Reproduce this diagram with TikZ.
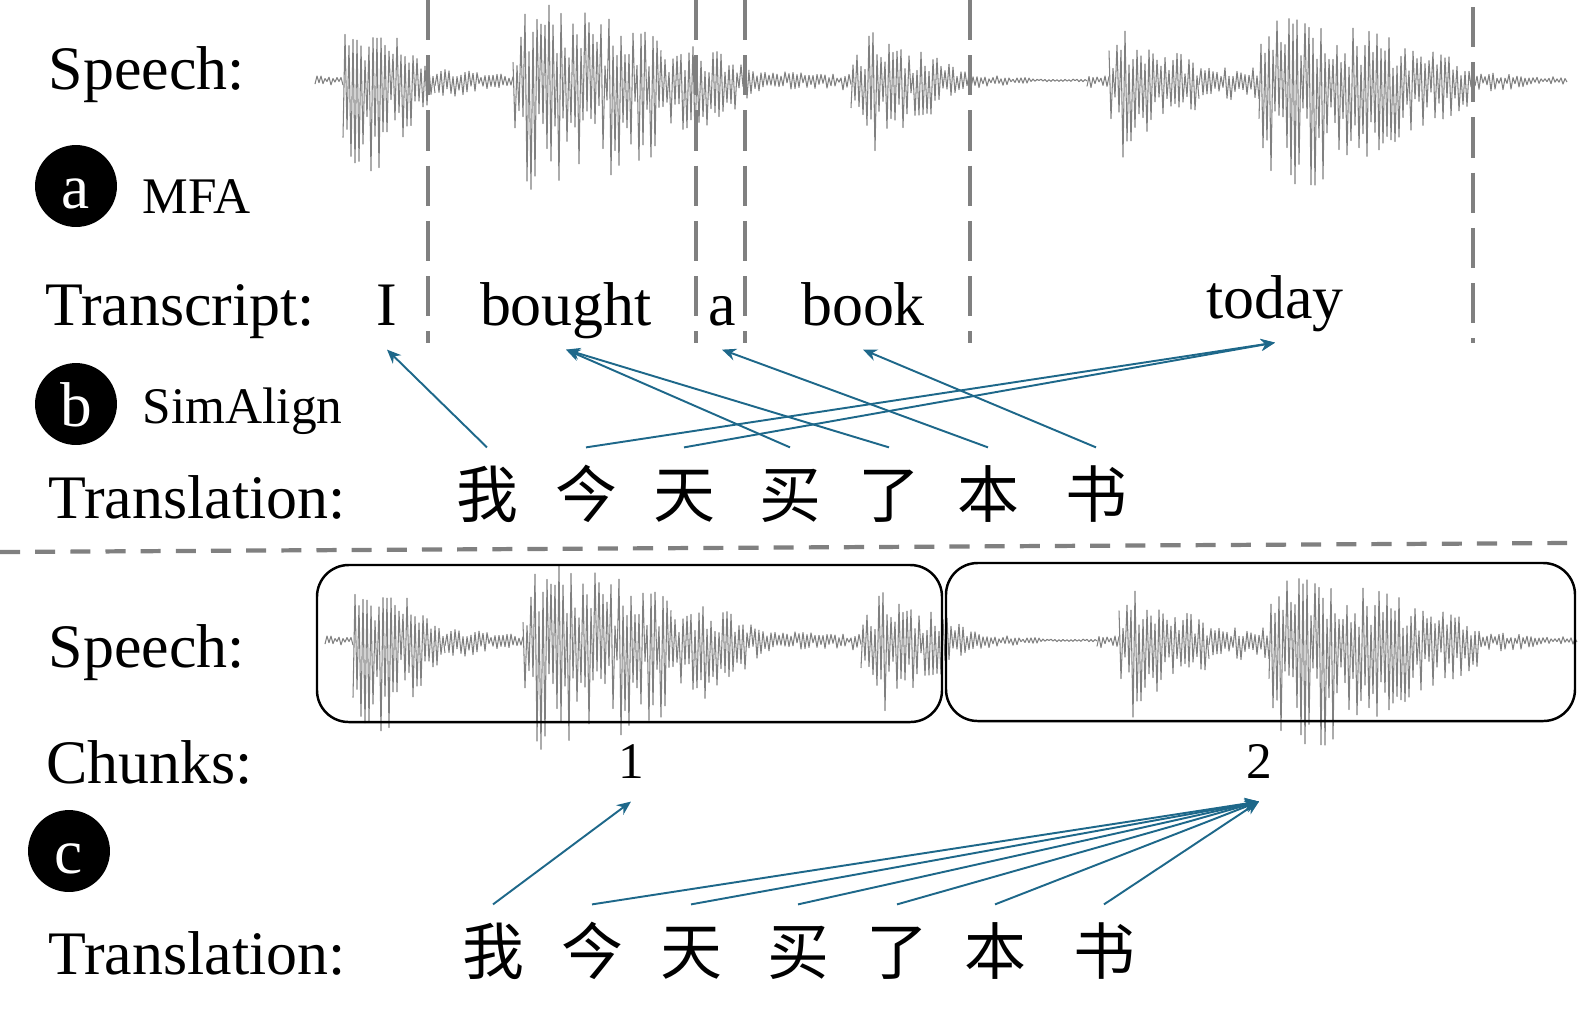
\documentclass[tikz,border=0pt]{standalone}
\usepackage{fontspec}
\setmainfont{Liberation Serif}
\newfontfamily\cjk{Noto Sans CJK SC}
\usetikzlibrary{arrows.meta, positioning, calc}

\definecolor{linkblue}{RGB}{30,104,138}
\definecolor{wavegray}{RGB}{128,128,128}
\definecolor{cutgray}{RGB}{128,128,128}

\newcommand{\labelsize}{\fontsize{17.6}{20}\selectfont}
\newcommand{\toolsize}{\fontsize{14.6}{17}\selectfont}
\newcommand{\tagsize}{\fontsize{18}{21}\selectfont}

% one speech track, centre line at y=80
\newcommand{\speechwave}{%
  \pgfmathsetseed{1234}%
  \foreach \ws/\wp/\we/\wa/\wg/\wf in {315/315/343/3/1/1, 343/361/435/70/0.6/0.15,
      435/435/513/12/1/0.3, 513/531/661/80/0.6/0.6, 661/701/749/38/0.6/0.25,
      749/749/851/8/1/0.6, 851/875/969/48/0.6/0.15, 969/969/1031/5/1/0.2,
      1031/1031/1087/0/1/1, 1087/1087/1109/4/1/1, 1109/1127/1199/54/0.6/0.3,
      1199/1199/1259/12/1/0.9, 1259/1281/1471/76/0.6/0.2, 1471/1471/1567/8/1/0.15}{%
    \pgfmathtruncatemacro\wn{(\we-\ws)/2+1}%
    \draw[wave] plot[domain=\ws:\we, samples=\wn]
      (\x, {80-wsign(\x)*(1.2+\wa*ifthenelse(\x<\wp, \wg+(1-\wg)*(\x-\ws)/(\wp-\ws+0.01),
        1-(1-\wf)*(\x-\wp)/(\we-\wp+0.01)))*(0.2+0.8*rnd)});
  }%
}

\begin{document}
\begin{tikzpicture}[x=0.01cm, y=-0.01cm, >=Stealth,
  declare function={wsign(\x)=ifthenelse(mod(\x-312,4)<2,1,-1.6);},
  rowlabel/.style={font=\labelsize, inner sep=0pt, anchor=base west},
  toolname/.style={font=\toolsize, inner sep=0pt, anchor=base west},
  tagdot/.style={circle, fill=black, text=white, minimum size=23.3pt, inner sep=0pt,
    font=\tagsize, text height=12.6pt, text depth=0pt},
  word/.style={font=\labelsize, anchor=base, inner xsep=0pt, inner ysep=6.8pt, text depth=0pt},
  chunkno/.style={font=\toolsize, anchor=base, inner xsep=0pt, inner ysep=6.5pt, text depth=0pt},
  hanzi/.style={font=\cjk\labelsize, anchor=base, inner sep=0pt, text height=19.6pt, text depth=0pt},
  link/.style={->, draw=linkblue, line width=0.55pt, >={Stealth[length=4pt, width=3.4pt]}},
  cut/.style={draw=cutgray, line width=1.4pt, dash pattern=on 11.4pt off 4.3pt},
  split/.style={draw=cutgray, line width=1.2pt, dash pattern=on 5.7pt off 4.3pt},
  chunkbox/.style={draw=black, line width=0.7pt, rounded corners=9pt},
  wave/.style={draw=wavegray, line width=0.3pt, line join=round}]
  \useasboundingbox (0,0) rectangle (1578,1026);

  % upper part: MFA + SimAlign
  \speechwave
  \foreach \cx in {428,696,745,970}
    \draw[cut] (\cx,0) -- (\cx,343);
  \draw[cut] (1473,7) -- (1473,343);

  \node[rowlabel] (speechA) at (48,89) {Speech:};
  \node[tagdot] (tagA) at (76,186) {a};
  \node[toolname] (mfa) at (142,213) {MFA};
  \node[rowlabel] (transcript) at (45,325) {Transcript:};
  \node[tagdot] (tagB) at (76,404) {b};
  \node[toolname] (simalign) at (142,423) {SimAlign};
  \node[rowlabel] (translationA) at (48,518) {Translation:};

  \node[word] (wI) at (387,325) {I};
  \node[word] (wbought) at (566,325) {bought};
  \node[word] (wa) at (722,325) {a};
  \node[word] (wbook) at (863,325) {book};
  \node[word] (wtoday) at (1275,318) {today};

  \foreach \ch/\x [count=\i] in {我/487, 今/586, 天/684, 买/790, 了/889, 本/988, 书/1096}
    \node[hanzi] (h\i) at (\x,517) {\ch};
  \foreach \src/\dst in {h1/wI, h2/wtoday, h3/wtoday, h4/wbought, h5/wbought, h6/wa, h7/wbook}
    \draw[link] (\src.north) -- (\dst.south);

  \draw[split] (0,552) -- (1567,543);

  % lower part: chunks
  \begin{scope}[shift={(10,560)}]
    \speechwave
  \end{scope}
  \draw[chunkbox] (317,565) rectangle (942,722);
  \draw[chunkbox] (946,563) rectangle (1575,721);

  \node[rowlabel] (speechB) at (48,667) {Speech:};
  \node[rowlabel] (chunks) at (46,783) {Chunks:};
  \node[chunkno] (chunk1) at (631,778) {1};
  \node[chunkno] (chunk2) at (1259,778) {2};
  \node[tagdot] (tagC) at (69,851) {c};
  \node[rowlabel] (translationB) at (48,974) {Translation:};

  \foreach \ch/\x [count=\i] in {我/493, 今/592, 天/691, 买/798, 了/897, 本/995, 书/1104}
    \node[hanzi] (g\i) at (\x,974) {\ch};
  \draw[link] (g1.north) -- (chunk1.south);
  \foreach \i in {2,...,7}
    \draw[link] (g\i.north) -- (chunk2.south);
\end{tikzpicture}
\end{document}
